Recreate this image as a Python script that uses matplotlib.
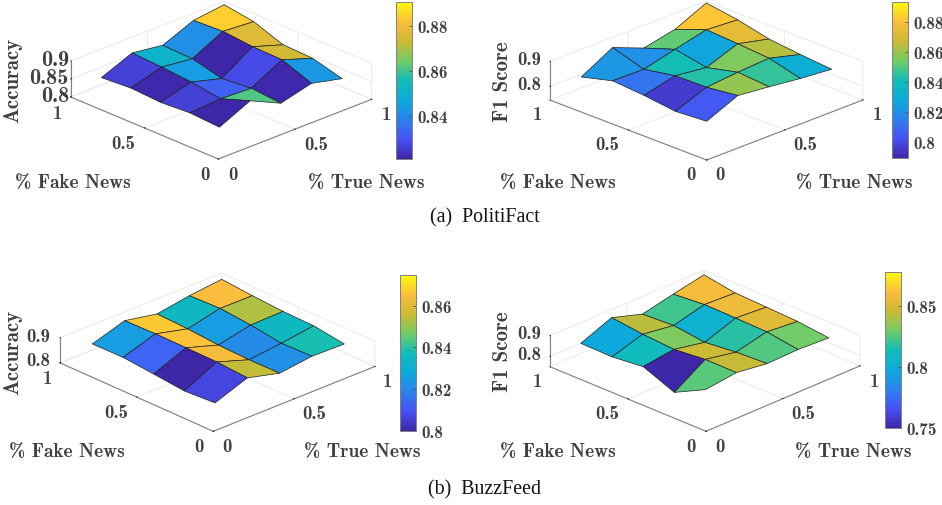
#!/usr/bin/env python3

import numpy as np
import matplotlib
matplotlib.use('Agg')
import matplotlib.pyplot as plt
from matplotlib.cm import ScalarMappable
from matplotlib.colors import LinearSegmentedColormap, Normalize
from mpl_toolkits.mplot3d import proj3d

W, H = 942, 506
BOLD = 'cmb10'
TEXT = '#404040'

true_news = [0.2, 0.4, 0.6, 0.8, 1.0]
fake_news = [0.2, 0.4, 0.6, 0.8, 1.0]

# rows are % fake news, columns are % true news
politifact_acc = [
    [0.8207, 0.861, 0.821, 0.843, 0.823],
    [0.826, 0.832, 0.828, 0.874, 0.845],
    [0.821, 0.844, 0.8207, 0.876, 0.848],
    [0.826, 0.851, 0.841, 0.884, 0.878],
    [0.8207, 0.856, 0.844, 0.880, 0.8904],
]
politifact_f1 = [
    [0.804, 0.859, 0.846, 0.831, 0.820],
    [0.796, 0.844, 0.856, 0.864, 0.831],
    [0.812, 0.842, 0.827, 0.874, 0.845],
    [0.822, 0.820, 0.852, 0.882, 0.874],
    [0.7893, 0.859, 0.809, 0.836, 0.8933],
]
buzzfeed_acc = [
    [0.807, 0.855, 0.822, 0.838, 0.835],
    [0.800, 0.864, 0.821, 0.835, 0.853],
    [0.813, 0.866, 0.825, 0.853, 0.856],
    [0.825, 0.867, 0.835, 0.865, 0.864],
    [0.824, 0.865, 0.840, 0.861, 0.8747],
]
buzzfeed_f1 = [
    [0.826, 0.845, 0.825, 0.830, 0.823],
    [0.750, 0.846, 0.818, 0.853, 0.840],
    [0.812, 0.832, 0.803, 0.857, 0.847],
    [0.797, 0.843, 0.822, 0.860, 0.853],
    [0.800, 0.861, 0.8145, 0.848, 0.878],
]

acc_ticks_a = [0.8, 0.85, 0.9]
f1_ticks = [0.8, 0.9]
cbar_ticks_1 = [0.84, 0.86, 0.88]
cbar_ticks_2 = [0.8, 0.82, 0.84, 0.86, 0.88]
cbar_ticks_3 = [0.8, 0.82, 0.84, 0.86]
cbar_ticks_4 = [0.75, 0.8, 0.85]

parula = LinearSegmentedColormap.from_list('parula', [
    (0.2422, 0.1504, 0.6603), (0.2810, 0.3228, 0.9579), (0.1700, 0.5100, 0.9300),
    (0.0500, 0.6700, 0.8600), (0.0600, 0.7400, 0.7200), (0.4500, 0.8000, 0.4000),
    (0.8000, 0.7300, 0.2000), (0.9900, 0.7400, 0.2400), (0.9800, 0.9800, 0.0500),
])

plt.rcParams['axes.unicode_minus'] = False
plt.rcParams['grid.color'] = '#e8e8e8'
plt.rcParams['grid.linewidth'] = 0.6
plt.rcParams['axes3d.automargin'] = False

fig = plt.figure(figsize=(W / 100, H / 100), dpi=100)


def put(x, y, s, **kw):
    kw.setdefault('family', BOLD)
    kw.setdefault('fontsize', 13.5)
    kw.setdefault('color', TEXT)
    kw.setdefault('ha', 'center')
    kw.setdefault('va', 'center')
    fig.text(x / W, 1 - y / H, s, **kw)


def project(ax, x, y, z):
    u, v, _ = proj3d.proj_transform(x, y, z, ax.get_proj())
    return ax.transData.transform((u, v))


def panel(z, zlim, ticks, front, right, left, zpx, cbar_box, cbar_ticks):
    z = np.array(z)
    f, r, l = np.array(front, float), np.array(right, float), np.array(left, float)
    rv, lv = r - f, l - f
    beta = np.degrees(np.arctan2(-lv[0], rv[0]))
    elev = np.degrees(np.arcsin(0.5 * (-lv[1] / rv[0] + rv[1] / lv[0])))
    s = np.hypot(rv[0], lv[0])
    ax = fig.add_axes([0, 0, H / W, 1], projection='3d', proj_type='ortho')
    ax.view_init(elev=elev, azim=-90 - beta)
    ax.set_box_aspect((1, 1, zpx / (s * np.cos(np.radians(elev)))))
    ax.set_xlim(0, 1)
    ax.set_ylim(0, 1)
    ax.set_zlim(*zlim)
    ax.patch.set_alpha(0)

    # fit the square axes so that the floor corners land where they should
    size = float(H)
    pr, pl = project(ax, 1, 0, zlim[0]), project(ax, 0, 1, zlim[0])
    size *= (r[0] - l[0]) / (pr[0] - pl[0])
    ax.set_position([0, 0, size / W, size / H])
    pf = project(ax, 0, 0, zlim[0])
    ax.set_position([(f[0] - pf[0]) / W, (H - f[1] - pf[1]) / H, size / W, size / H])

    norm = Normalize(z.min(), z.max())
    X, Y = np.meshgrid(true_news, fake_news)
    surf = ax.plot_surface(X, Y, z, facecolors=parula(norm(z)), rstride=1, cstride=1,
                           shade=False, linewidth=0.5, antialiased=True)
    surf.set_edgecolor('#202020')

    ax.set_xticks([0, 0.5, 1])
    ax.set_yticks([0, 0.5, 1])
    ax.set_zticks(ticks)
    ax.set_xticklabels([])
    ax.set_yticklabels([])
    ax.set_zticklabels([])
    for axis in (ax.xaxis, ax.yaxis, ax.zaxis):
        axis.set_pane_color((1, 1, 1, 0))
        axis.pane.set_edgecolor((1, 1, 1, 0))
        axis.line.set_color('#808080')
        axis.line.set_linewidth(0.8)
        axis._axinfo['tick']['color'] = '#808080'
        axis._axinfo['tick']['linewidth'] = {True: 0.6, False: 0.5}
        axis._axinfo['tick']['inward_factor'] = 0.0
        axis._axinfo['tick']['outward_factor'] = 0.04

    x0, y0, x1, y1 = cbar_box
    cax = fig.add_axes([x0 / W, 1 - y1 / H, (x1 - x0) / W, (y1 - y0) / H])
    cb = fig.colorbar(ScalarMappable(norm=norm, cmap=parula), cax=cax)
    cb.set_ticks(cbar_ticks)
    cb.set_ticklabels([('%.2f' % t).rstrip('0') for t in cbar_ticks])
    cb.outline.set_edgecolor('#808080')
    cb.outline.set_linewidth(0.7)
    cax.tick_params(direction='in', length=2.5, width=0.6, color='#505050', pad=4, labelcolor=TEXT)
    for t in cax.get_yticklabels():
        t.set_family(BOLD)
        t.set_fontsize(12.3)
    return ax


panel(politifact_acc, (0.8, 0.9), acc_ticks_a, (218.3, 160), (371.7, 100), (70.7, 98.3), 36,
      (396, 3.3, 412, 160), cbar_ticks_1)
panel(politifact_f1, (0.745, 0.9), f1_ticks, (706.7, 161), (863, 101), (550, 101), 38.7,
      (892.3, 3.3, 908, 159), cbar_ticks_2)
panel(buzzfeed_acc, (0.8, 0.9), f1_ticks, (213.3, 432.3), (375, 367.3), (60, 364), 25,
      (400, 276, 416, 431.7), cbar_ticks_3)
panel(buzzfeed_f1, (0.75, 0.9), f1_ticks, (706, 432.3), (860, 367.3), (550, 367.3), 31,
      (885.3, 273.3, 901.3, 429.3), cbar_ticks_4)

# axis texts
put(13, 80, 'Accuracy', rotation=90, fontsize=15)
put(502, 82, 'F1 Score', rotation=90, fontsize=15)
put(13, 352, 'Accuracy', rotation=90, fontsize=15)
put(502, 352, 'F1 Score', rotation=90, fontsize=15)

for x, y, s, size in [(69, 61, '0.9', 16), (69, 79, '0.85', 16), (69, 96, '0.8', 16),
                      (541, 60, '0.9', 13.5), (541, 85, '0.8', 13.5),
                      (50, 337, '0.9', 13.5), (50, 361, '0.8', 13.5),
                      (541, 334, '0.9', 13.5), (541, 355, '0.8', 13.5)]:
    put(x, y, s, ha='right', fontsize=size)

for pts in [[(57, 114, '1'), (123, 144, '0.5'), (205, 175, '0'),
             (233, 175, '0'), (316, 145, '0.5'), (386, 115, '1')],
            [(537, 115, '1'), (607, 145, '0.5'), (691, 175, '0'),
             (720, 175, '0'), (805, 145, '0.5'), (877, 115, '1')],
            [(47, 379, '1'), (116, 413, '0.5'), (199, 447, '0'),
             (227, 447, '0'), (314, 414, '0.5'), (387, 382, '1')],
            [(537, 382, '1'), (607, 414, '0.5'), (691, 447, '0'),
             (720, 447, '0'), (803, 414, '0.5'), (874, 382, '1')]]:
    for x, y, s in pts:
        put(x, y, s)

for x, y, s in [(73, 183, '% Fake News'), (366, 183, '% True News'),
                (558, 183, '% Fake News'), (854, 183, '% True News'),
                (67, 452, '% Fake News'), (362, 452, '% True News'),
                (558, 452, '% Fake News'), (853, 452, '% True News')]:
    put(x, y, s, fontsize=14)

put(484.5, 218, '(a)  PolitiFact', family='Liberation Serif', fontsize=14.3, color='#111111')
put(485, 490, '(b)  BuzzFeed', family='Liberation Serif', fontsize=14.3, color='#111111')

fig.savefig('out.png', dpi=100)
